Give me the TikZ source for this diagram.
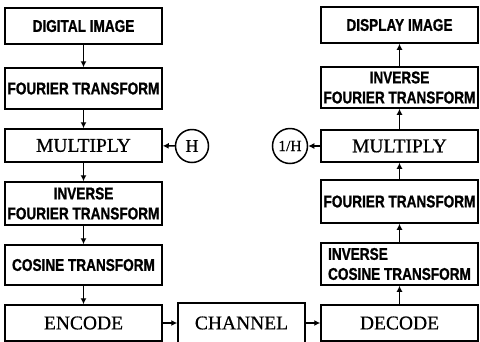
\documentclass[tikz,border=0pt]{standalone}
\usepackage{fontspec}
\setmainfont{Liberation Serif}
\newfontfamily\capsfont[FakeStretch=0.8,FakeBold=1]{Liberation Sans}
\newfontfamily\romanfont[FakeBold=0.6]{Liberation Serif}
\usetikzlibrary{arrows.meta}

\begin{document}
\begin{tikzpicture}[x=1pt,y=-1pt,
    block/.style={draw, line width=1.5pt, rectangle, inner sep=0pt, minimum width=157pt},
    capstext/.style={font=\capsfont\bfseries\fontsize{17}{20}\selectfont, align=center},
    romantext/.style={font=\romanfont\fontsize{19.5}{22}\selectfont},
    factor/.style={draw, line width=1.5pt, circle, inner sep=0pt},
    flow/.style={line width=1.5pt, -{Latex[length=6pt,width=6pt]}}]
      \def\lx{83.5}
      \def\rx{399.5}
      \useasboundingbox (0,0) rectangle (480,341);

      % encoder side
      \node[block, capstext, minimum height=36pt] (digital) at (\lx,26) {DIGITAL IMAGE};
      \node[block, capstext, minimum height=41pt] (fft) at (\lx,88.5) {FOURIER TRANSFORM};
      \node[block, romantext, minimum height=33pt] (mult) at (\lx,145.5) {MULTIPLY};
      \node[factor, font=\romanfont\fontsize{18}{20}\selectfont, minimum size=33pt] (h) at (192,146) {H};
      \node[block, capstext, minimum height=43pt] (ifft) at (\lx,203.5) {INVERSE\\FOURIER TRANSFORM};
      \node[block, capstext, minimum height=40pt] (dct) at (\lx,265) {COSINE TRANSFORM};
      \node[block, romantext, minimum height=36pt] (encode) at (\lx,323) {ENCODE};

      % channel
      \node[block, romantext, minimum width=127pt, minimum height=40pt] (channel) at (241.5,323) {CHANNEL};

      % decoder side
      \node[block, romantext, minimum height=36pt] (decode) at (\rx,323) {DECODE};
      \node[block, capstext, minimum height=42pt, align=left] (idct) at (\rx,264) {INVERSE\\COSINE TRANSFORM};
      \node[block, capstext, minimum height=43pt] (fft2) at (\rx,201.5) {FOURIER TRANSFORM};
      \node[block, romantext, minimum height=32pt] (mult2) at (\rx,146) {MULTIPLY};
      \node[factor, font=\romanfont\fontsize{15.5}{18}\selectfont, minimum size=35pt] (invh) at (290,146) {1/H};
      \node[block, capstext, minimum height=41pt] (ifft2) at (\rx,87.5) {INVERSE\\FOURIER TRANSFORM};
      \node[block, capstext, minimum height=36pt] (display) at (\rx,25) {DISPLAY IMAGE};

      \draw[flow] (digital) -- (fft);
      \draw[flow] (fft) -- (mult);
      \draw[flow] (h) -- (mult);
      \draw[flow] (mult) -- (ifft);
      \draw[flow] (ifft) -- (dct);
      \draw[flow] (dct) -- (encode);
      \draw[flow] (encode) -- (channel);
      \draw[flow] (channel) -- (decode);
      \draw[flow] (decode) -- (idct);
      \draw[flow] (idct) -- (fft2);
      \draw[flow] (fft2) -- (mult2);
      \draw[flow] (mult2) -- (invh);
      \draw[flow] (mult2) -- (ifft2);
      \draw[flow] (ifft2) -- (display);

    \end{tikzpicture}
\end{document}
